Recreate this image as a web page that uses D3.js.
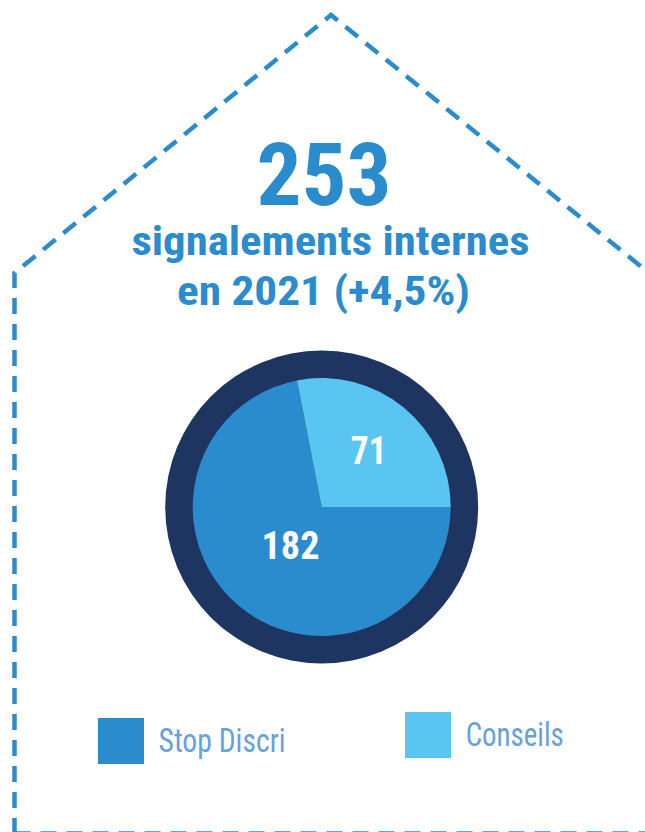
<!DOCTYPE html>
<html lang="fr">
<head>
<meta charset="utf-8">
<script src="https://cdn.jsdelivr.net/npm/d3@7"></script>
<style>
  html, body { margin: 0; padding: 0; background: #ffffff; }
  svg { display: block; }
</style>
</head>
<body>
<script>
// Internal reports 2021, split by channel
const categories = ["Stop Discri", "Conseils"];
const values = [182, 71];
const colors = ["#2a8bcd", "#5bc5f2"];
const total = 253;
const titleLines = ["signalements internes", "en 2021 (+4,5%)"];

const W = 645, H = 832;
const blue = "#2a8bcd";
const condensed = "'Liberation Sans Narrow', 'Arial Narrow', 'Roboto Condensed', sans-serif";

const svg = d3.select("body").append("svg")
  .attr("width", W).attr("height", H);

// Dashed house outline
const house = d3.path();
house.moveTo(14.5, 834);
house.lineTo(14.5, 273);
house.lineTo(331, 15);
house.lineTo(649, 273);
house.moveTo(14.5, 833.5);
house.lineTo(650, 833.5);
svg.append("path")
  .attr("d", house.toString())
  .attr("fill", "none")
  .attr("stroke", blue)
  .attr("stroke-width", 4.5)
  .attr("stroke-dasharray", "16 10")
  .attr("stroke-linejoin", "miter");

// Headline
svg.append("text")
  .attr("x", 324).attr("y", 205)
  .attr("text-anchor", "middle")
  .attr("font-family", condensed)
  .attr("font-weight", "bold")
  .attr("font-size", 87)
  .attr("fill", blue)
  .attr("textLength", 135)
  .attr("lengthAdjust", "spacingAndGlyphs")
  .text(total);

const lineY = [254.5, 305];
const lineW = [398, 293];
const lineX = [330.5, 323.5];
svg.selectAll("text.sub")
  .data(titleLines)
  .join("text")
  .attr("class", "sub")
  .attr("x", (d, i) => lineX[i])
  .attr("y", (d, i) => lineY[i])
  .attr("text-anchor", "middle")
  .attr("font-family", condensed)
  .attr("font-weight", "bold")
  .attr("font-size", 41)
  .attr("fill", blue)
  .attr("textLength", (d, i) => lineW[i])
  .attr("lengthAdjust", "spacingAndGlyphs")
  .text(d => d);

// Pie
const cx = 321.7, cy = 507;
const rOuter = 156.5, rInner = 129;

const g = svg.append("g").attr("transform", `translate(${cx},${cy})`);

g.append("circle")
  .attr("r", rOuter)
  .attr("fill", "#1e3461");

const pie = d3.pie()
  .sort(null)
  .startAngle(Math.PI / 2)
  .endAngle(Math.PI / 2 + 2 * Math.PI)
  .value(d => d);

const arcs = pie(values);
const arc = d3.arc().innerRadius(0).outerRadius(rInner);

g.selectAll("path.slice")
  .data(arcs)
  .join("path")
  .attr("class", "slice")
  .attr("d", arc)
  .attr("fill", (d, i) => colors[i]);

// Value labels sit at different depths inside each slice
const labelR = [49, 74];
g.selectAll("text.val")
  .data(arcs)
  .join("text")
  .attr("class", "val")
  .attr("transform", (d, i) => {
    const a = (d.startAngle + d.endAngle) / 2;
    return `translate(${Math.sin(a) * labelR[i]},${-Math.cos(a) * labelR[i]})`;
  })
  .attr("text-anchor", "middle")
  .attr("dy", "0.36em")
  .attr("font-family", condensed)
  .attr("font-weight", "bold")
  .attr("font-size", 38)
  .attr("fill", "#ffffff")
  .attr("textLength", (d, i) => i === 0 ? 58 : 36)
  .attr("lengthAdjust", "spacingAndGlyphs")
  .text(d => d.data);

// Legend
const legX = [98, 405];
const legY = [718, 712];
const legTextW = [127, 98];
const leg = svg.selectAll("g.leg")
  .data(categories)
  .join("g")
  .attr("class", "leg")
  .attr("transform", (d, i) => `translate(${legX[i]},${legY[i]})`);

leg.append("rect")
  .attr("width", 46).attr("height", 46)
  .attr("fill", (d, i) => colors[i]);

leg.append("text")
  .attr("x", (d, i) => i === 0 ? 60.5 : 60.7)
  .attr("y", 34.3)
  .attr("font-family", condensed)
  .attr("font-size", 34)
  .attr("fill", "#65a2d8")
  .attr("textLength", (d, i) => legTextW[i])
  .attr("lengthAdjust", "spacingAndGlyphs")
  .text(d => d);
</script>
</body>
</html>
